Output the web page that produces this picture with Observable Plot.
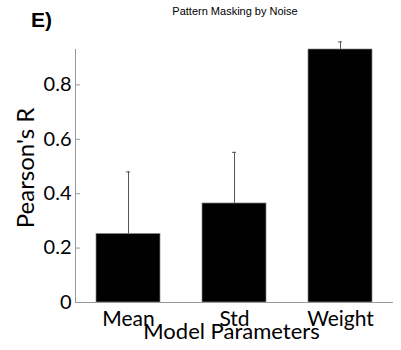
<!DOCTYPE html>
<html><head><meta charset="utf-8">
<script src="https://cdn.jsdelivr.net/npm/d3@7"></script>
<script src="https://cdn.jsdelivr.net/npm/@observablehq/plot@0.6"></script>
<style>
body{margin:0;background:#fff;}
#wrap{position:relative;width:401px;height:350px;}
#title{position:absolute;left:0;width:470px;top:5px;text-align:center;font-family:"Liberation Sans",Arial,sans-serif;font-size:11px;color:#000;}
#panel{position:absolute;left:31px;top:8px;font-family:"Liberation Sans",Arial,sans-serif;font-weight:bold;font-size:21px;color:#000;}
</style></head>
<body>
<div id="wrap">
<div id="title">Pattern Masking by Noise</div>
<div id="panel">E)</div>
</div>
<script>
const params = ["Mean", "Std", "Weight"];
const values = [0.252, 0.364, 0.93];
const upper = [0.48, 0.552, 0.958];
const yTicks = [0, 0.2, 0.4, 0.6, 0.8];
const titleText = "Pattern Masking by Noise";
const xLabel = "Model Parameters";
const yLabel = "Pearson's R";

const data = params.map((p, i) => ({param: p, value: values[i], upper: upper[i]}));
const font = "Lato, 'Open Sans', sans-serif";

const chart = Plot.plot({
  width: 401, height: 350,
  marginLeft: 75, marginRight: 8, marginTop: 49, marginBottom: 48,
  style: {fontFamily: font, background: "transparent", overflow: "visible"},
  x: {domain: params, paddingInner: 0.4, paddingOuter: 0.2},
  y: {domain: [0, 0.93]},
  marks: [
    Plot.axisY({ticks: yTicks, tickSize: 0, tickPadding: 4, fontSize: 20, tickFormat: d3.format("~g"), label: null, color: "#000"}),
    Plot.axisX({tickSize: 0, tickPadding: 9, fontSize: 21, label: null, color: "#000"}),
    Plot.ruleY(yTicks, {stroke: "#999", insetRight: 313}),
    Plot.ruleX(data, {x: "param", y1: "value", y2: "upper", stroke: "#555", strokeWidth: 1}),
    Plot.tickY(data, {x: "param", y: "upper", stroke: "#555", insetLeft: 30, insetRight: 30}),
    Plot.barY(data, {x: "param", y: "value", fill: "#000", stroke: "#888", strokeWidth: 0.7}),
    Plot.frame({anchor: "left", stroke: "#999"}),
    Plot.ruleY([0], {stroke: "#999"}),
    Plot.text([xLabel], {frameAnchor: "bottom", dy: 36, dx: -3, fontSize: 22, fill: "#000"}),
    Plot.text([yLabel], {frameAnchor: "left", textAnchor: "middle", rotate: -90, dx: -49, dy: -8, fontSize: 24, fill: "#000"})
  ]
});
const wrap = document.getElementById("wrap");
wrap.insertBefore(chart, wrap.firstChild);
chart.style.position = "absolute";
chart.style.left = "0"; chart.style.top = "0";
document.getElementById("title").textContent = titleText;
</script>
</body></html>
